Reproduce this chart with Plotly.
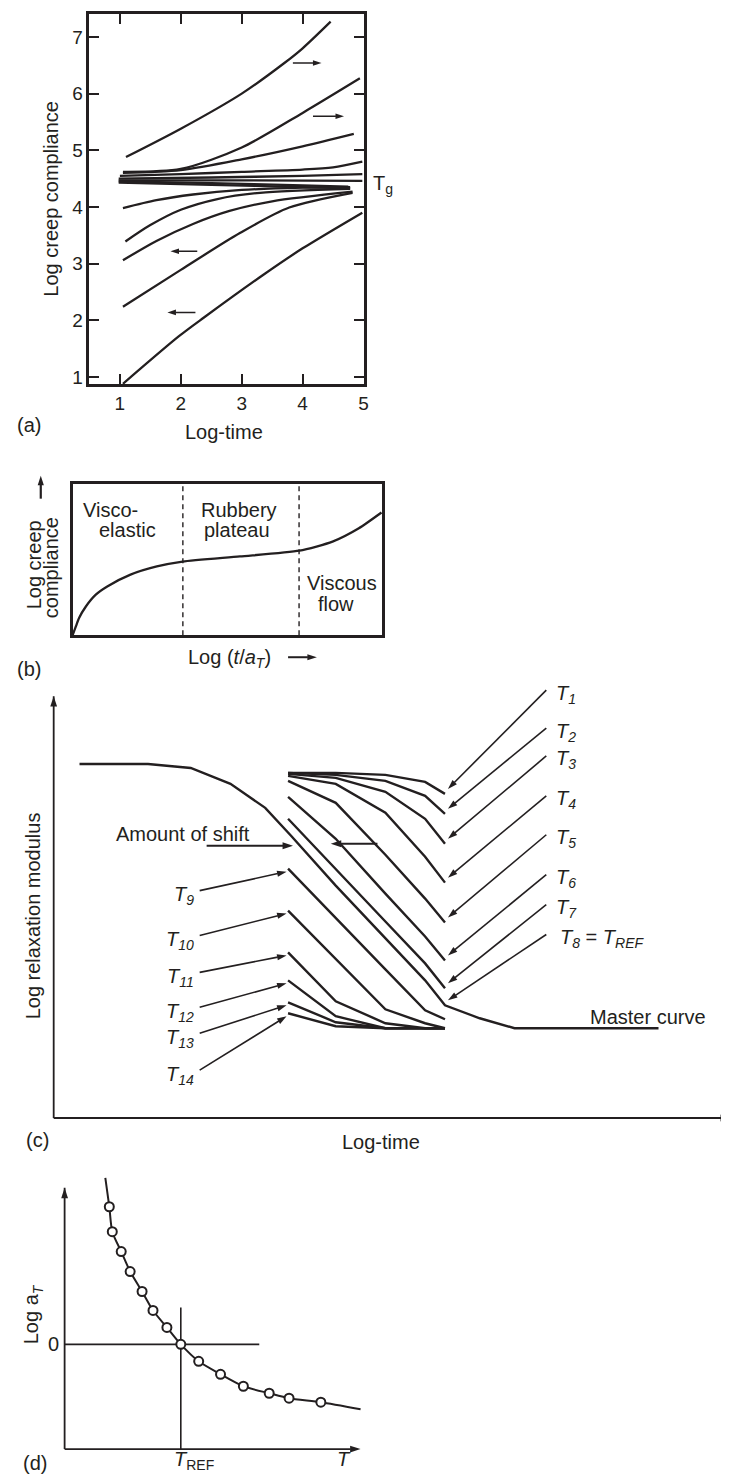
import plotly.graph_objects as go

W, H = 729, 1475
INK = '#231f20'
FONT = 'Liberation Sans, Arial, Helvetica, sans-serif'

#%% (a) creep compliance vs log-time, one curve per temperature
a_log_time = [
    [1.10, 2.00, 3.00, 3.70, 4.00, 4.46],
    [1.05, 2.00, 3.00, 4.00, 4.94],
    [1.05, 2.00, 3.00, 4.00, 4.84],
    [1.00, 2.00, 3.00, 4.00, 4.50, 4.98],
    [0.98, 2.50, 4.00, 4.98],
    [0.98, 3.00, 4.98],
    [0.98, 2.50, 4.00, 4.75],
    [0.98, 2.50, 4.00, 4.78],
    [1.05, 1.60, 2.20, 3.00, 4.00, 4.78],
    [1.09, 1.50, 2.00, 2.60, 3.30, 4.78],
    [1.05, 1.60, 2.20, 2.80, 3.50, 4.82],
    [1.05, 2.00, 2.97, 3.78, 4.82],
    [1.05, 1.97, 2.38, 3.35, 4.00, 4.98],
]
a_log_J = [
    [4.88, 5.38, 6.00, 6.54, 6.80, 7.27],
    [4.62, 4.67, 5.05, 5.66, 6.27],
    [4.60, 4.65, 4.84, 5.07, 5.29],
    [4.55, 4.58, 4.62, 4.66, 4.70, 4.80],
    [4.50, 4.52, 4.55, 4.58],
    [4.47, 4.47, 4.46],
    [4.45, 4.42, 4.38, 4.36],
    [4.43, 4.39, 4.35, 4.33],
    [3.98, 4.12, 4.22, 4.30, 4.34, 4.35],
    [3.39, 3.68, 3.95, 4.14, 4.25, 4.32],
    [3.06, 3.40, 3.70, 3.93, 4.10, 4.27],
    [2.24, 2.89, 3.54, 3.99, 4.25],
    [0.88, 1.72, 2.05, 2.80, 3.27, 3.90],
]
a_xticks = [1, 2, 3, 4, 5]
a_yticks = [1, 2, 3, 4, 5, 6, 7]

#%% (b) generalised creep curve
b_log_t = [0.0, 0.11, 0.21, 0.43, 0.75, 1.12, 1.87, 2.72, 3.55, 5.40, 7.32, 8.39, 9.24, 9.97]
b_log_J = [0.0, 0.30, 0.57, 0.95, 1.34, 1.61, 2.00, 2.27, 2.43, 2.60, 2.79, 3.09, 3.53, 4.05]
b_regions = [3.56, 7.31]

#%% (c) relaxation modulus segments and master curve
c_master_t = [2.6, 9.5, 13.8, 17.8, 21.3, 23.9, 28.4, 33.4, 37.4, 39.4, 42.9, 46.4, 60.9]
c_master_G = [35.5, 35.5, 35.1, 33.5, 31.1, 28.3, 23.3, 18.0, 13.8, 11.3, 10.0, 9.0, 9.0]
c_window_t = [23.6, 28.4, 33.4, 37.4, 39.4]
c_upper_names = ['1', '2', '3', '4', '5', '6', '7']
c_upper_G = [
    [34.6, 34.6, 34.4, 33.7, 32.5],
    [34.6, 34.4, 33.8, 32.3, 30.5],
    [34.5, 34.1, 32.7, 30.0, 27.5],
    [34.3, 33.5, 30.6, 26.2, 23.6],
    [33.8, 31.6, 26.4, 22.0, 19.6],
    [32.2, 28.0, 22.5, 18.2, 15.8],
    [30.0, 25.0, 19.7, 15.5, 13.0],
]
c_lower_names = ['9', '10', '11', '12', '13', '14']
c_lower_G = [
    [25.0, 20.1, 14.9, 10.8, 9.9],
    [20.8, 16.0, 10.9, 9.5, 9.0],
    [16.6, 11.7, 9.5, 9.0, 9.0],
    [13.8, 10.2, 9.0, 9.0, 9.0],
    [11.6, 9.6, 9.0, 9.0, 9.0],
    [10.5, 9.2, 9.0, 9.0, 9.0],
]

#%% (d) shift factor vs temperature
d_T = [4.1, 4.5, 4.8, 5.7, 6.6, 7.8, 8.9, 10.3, 11.7, 13.5, 15.7, 18.0, 20.6, 22.6, 25.8, 29.8]
d_log_aT = [16.7, 13.8, 11.3, 9.3, 7.3, 5.3, 3.4, 1.7, 0.0, -1.7, -3.0, -4.2, -4.9, -5.4, -5.8, -6.5]
d_T_ref = 11.7


#%% helpers (pixel positions -> paper / panel c units)
def px(x):
    return x / W


def py(y):
    return 1 - y / H


def cx(x):
    return (x - 46) / 10


def cy(y):
    return (1113 - y) / 10


def note(text, x, y, size=20, xanchor='center', yanchor='middle', angle=0):
    return dict(text=text, x=px(x), y=py(y), xref='paper', yref='paper', showarrow=False,
                font=dict(size=size, family=FONT, color=INK),
                xanchor=xanchor, yanchor=yanchor, textangle=angle)


def arrow(fig, xa, ya, tip, tail, width=1.6, head=10):
    # line from tail to tip, arrowhead marker oriented along the segment
    fig.add_trace(go.Scatter(x=[tail[0], tip[0]], y=[tail[1], tip[1]], mode='lines+markers',
                             xaxis=xa, yaxis=ya, line=dict(color=INK, width=width),
                             marker=dict(symbol='arrow', size=head, angleref='previous',
                                         color=INK, line=dict(width=0)),
                             hoverinfo='skip'))


fig = go.Figure()

#%% traces
for xs, ys in zip(a_log_time, a_log_J):
    fig.add_trace(go.Scatter(x=xs, y=ys, mode='lines', xaxis='x', yaxis='y',
                             line=dict(color=INK, width=2.3, shape='spline', smoothing=0.8)))

fig.add_trace(go.Scatter(x=b_log_t, y=b_log_J, mode='lines', xaxis='x2', yaxis='y2',
                         line=dict(color=INK, width=2.3, shape='spline', smoothing=0.6)))
for xb in b_regions:
    fig.add_trace(go.Scatter(x=[xb, xb], y=[0, 5], mode='lines', xaxis='x2', yaxis='y2',
                             line=dict(color=INK, width=1.4, dash='5px,4px')))

fig.add_trace(go.Scatter(x=c_master_t, y=c_master_G, mode='lines', xaxis='x3', yaxis='y3',
                         line=dict(color=INK, width=2.4)))
for ys in c_upper_G + c_lower_G:
    fig.add_trace(go.Scatter(x=c_window_t, y=ys, mode='lines', xaxis='x3', yaxis='y3',
                             line=dict(color=INK, width=2.4)))

fig.add_trace(go.Scatter(x=d_T, y=d_log_aT, mode='lines', xaxis='x4', yaxis='y4',
                         line=dict(color=INK, width=2, shape='spline', smoothing=0.7)))
fig.add_trace(go.Scatter(x=[0, 19.6], y=[0, 0], mode='lines', xaxis='x4', yaxis='y4',
                         line=dict(color=INK, width=1.6)))
fig.add_trace(go.Scatter(x=[d_T_ref, d_T_ref], y=[-10.5, 3.7], mode='lines', xaxis='x4', yaxis='y4',
                         line=dict(color=INK, width=1.6)))
fig.add_trace(go.Scatter(x=d_T[1:-1], y=d_log_aT[1:-1], mode='markers', xaxis='x4', yaxis='y4',
                         marker=dict(symbol='circle', size=9, color='white',
                                     line=dict(color=INK, width=2))))

#%% arrows
# (a) direction of shift
arrow(fig, 'x', 'y', (4.31, 6.54), (3.84, 6.54), width=1.5, head=9)
arrow(fig, 'x', 'y', (4.68, 5.60), (4.17, 5.60), width=1.5, head=9)
arrow(fig, 'x', 'y', (1.83, 3.22), (2.27, 3.22), width=1.5, head=9)
arrow(fig, 'x', 'y', (1.78, 2.14), (2.24, 2.14), width=1.5, head=9)

# (b) axis arrows, page pixel overlay
arrow(fig, 'x5', 'y5', (33, 469), (33, 492), width=2.2, head=10)
arrow(fig, 'x5', 'y5', (311, 651), (282, 651), width=2.0, head=10)

# (c) axes
arrow(fig, 'x3', 'y3', (0, cy(690)), (0, 0), width=1.8, head=11)
arrow(fig, 'x3', 'y3', (68.2, 0), (0, 0), width=1.8, head=11)
# amount of shift
arrow(fig, 'x3', 'y3', (cx(287), cy(840)), (cx(200), cy(840)), width=1.8, head=11)
arrow(fig, 'x3', 'y3', (cx(325), cy(838)), (cx(372), cy(838)), width=1.8, head=11)

right_label_y = [688, 726, 754, 794, 833, 873, 903]
for ys, ly in zip(c_upper_G, right_label_y):
    arrow(fig, 'x3', 'y3', (c_window_t[-1] + 0.3, ys[-1] + 0.5), (cx(542), cy(ly - 4)))
ref_end = c_master_G[c_master_t.index(c_window_t[-1])]
arrow(fig, 'x3', 'y3', (c_window_t[-1] + 0.3, ref_end + 0.5), (cx(542), cy(929)))

left_label_y = [890, 935, 972, 1007, 1033, 1070]
for ys, ly in zip(c_lower_G, left_label_y):
    arrow(fig, 'x3', 'y3', (c_window_t[0] - 0.15, ys[0] - 0.3), (cx(193), cy(ly - 5)))

# (d) axes
arrow(fig, 'x4', 'y4', (0, 15.7), (0, -10.5), width=1.8, head=11)
arrow(fig, 'x4', 'y4', (29.8, -10.5), (0, -10.5), width=1.8, head=11)

#%% text
ann = []
# (a)
ann.append(note('Log creep compliance', 43.5, 191, angle=-90))
ann.append(note('Log-time', 217, 425))
ann.append(note('(a)', 21, 418))
ann.append(note('T<sub>g</sub>', 366, 177, xanchor='left'))

# (b)
ann.append(note('Visco-', 103, 503))
ann.append(note('elastic', 120, 523))
ann.append(note('Rubbery', 192, 503, xanchor='left'))
ann.append(note('plateau', 195, 523, xanchor='left'))
ann.append(note('Viscous', 336, 577))
ann.append(note('flow', 330, 598))
ann.append(note('Log creep', 27, 558, angle=-90))
ann.append(note('compliance', 44, 561, angle=-90))
ann.append(note('Log (<i>t</i>/<i>a</i><sub><i>T</i></sub>)', 223, 652))
ann.append(note('(b)', 21, 663))

# (c)
ann.append(note('Log relaxation modulus', 25, 910, angle=-90))
ann.append(note('Log-time', 376, 1137))
ann.append(note('(c)', 30, 1135))
ann.append(note('Amount of shift', 107, 828, xanchor='left'))
ann.append(note('Master curve', 584, 1012, xanchor='left'))
for name, ly in zip(c_upper_names, right_label_y):
    ann.append(note('<i>T</i><sub><i>%s</i></sub>' % name, 550, ly, xanchor='left'))
ann.append(note('<i>T</i><sub><i>8</i></sub> = <i>T</i><sub><i>REF</i></sub>', 554, 933, xanchor='left'))
for name, ly in zip(c_lower_names, left_label_y):
    ann.append(note('<i>T</i><sub><i>%s</i></sub>' % name, 189, ly, xanchor='right'))

# (d)
ann.append(note('Log a<sub><i>T</i></sub>', 25, 1310, angle=-90))
ann.append(note('0', 53, 1340, xanchor='right'))
ann.append(note('<i>T</i><sub>REF</sub>', 187, 1456))
ann.append(note('<i>T</i>', 338, 1455))
ann.append(note('(d)', 27, 1459))

#%% layout
blank = dict(showgrid=False, zeroline=False, showticklabels=False, ticks='', showline=False)
fig.update_layout(
    width=W, height=H, margin=dict(l=0, r=0, t=0, b=0),
    paper_bgcolor='white', plot_bgcolor='rgba(0,0,0,0)', showlegend=False,
    font=dict(family=FONT, color=INK, size=19),
    xaxis=dict(domain=[px(82), px(358)], range=[0.5, 5.0], anchor='y', tickvals=a_xticks,
               ticks='inside', ticklen=10, tickwidth=2, tickcolor=INK, showline=True,
               linewidth=2.5, linecolor=INK, mirror='ticks', showgrid=False, zeroline=False,
               tickfont=dict(size=19)),
    yaxis=dict(domain=[py(377), py(6)], range=[0.877, 7.405], anchor='x', tickvals=a_yticks,
               ticks='inside', ticklen=10, tickwidth=2, tickcolor=INK, showline=True,
               linewidth=2.5, linecolor=INK, mirror='ticks', showgrid=False, zeroline=False,
               tickfont=dict(size=19)),
    xaxis2=dict(domain=[px(65), px(377)], range=[0, 10], anchor='y2', showgrid=False,
                zeroline=False, showticklabels=False, ticks='', showline=True, linewidth=2.5,
                linecolor=INK, mirror=True),
    yaxis2=dict(domain=[py(629), py(477)], range=[0, 5], anchor='x2', showgrid=False,
                zeroline=False, showticklabels=False, ticks='', showline=True, linewidth=2.5,
                linecolor=INK, mirror=True),
    xaxis3=dict(domain=[px(41), px(729)], range=[-0.5, 68.3], anchor='y3', **blank),
    yaxis3=dict(domain=[py(1118), py(680)], range=[-0.5, 43.3], anchor='x3', **blank),
    xaxis4=dict(domain=[px(52), px(360)], range=[-0.5, 30.3], anchor='y4', **blank),
    yaxis4=dict(domain=[py(1451), py(1170)], range=[-11.1, 17.0], anchor='x4', **blank),
    xaxis5=dict(domain=[0, 1], range=[0, W], anchor='y5', **blank),
    yaxis5=dict(domain=[0, 1], range=[H, 0], anchor='x5', **blank),
    annotations=ann,
)

fig.write_html("out.html")
